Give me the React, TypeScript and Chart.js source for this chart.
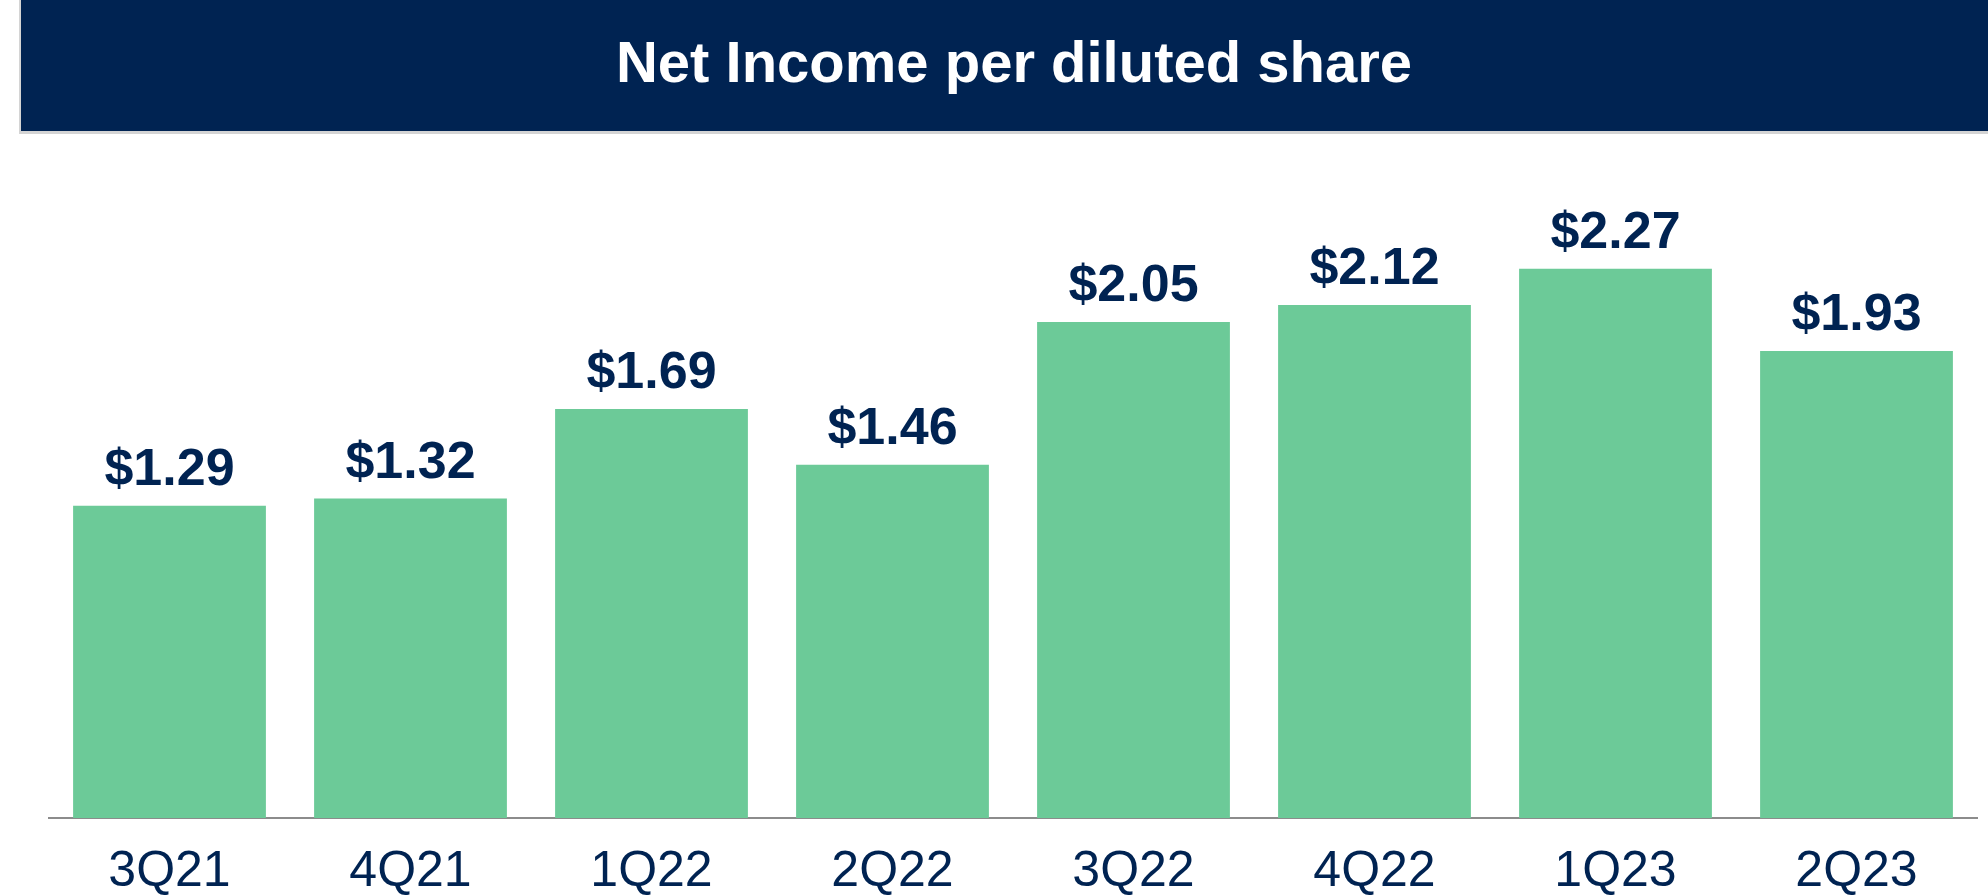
import React, { useEffect, useRef } from "react";
import { Chart, registerables } from "chart.js";

Chart.register(...registerables);

const categories = ["3Q21", "4Q21", "1Q22", "2Q22", "3Q22", "4Q22", "1Q23", "2Q23"];
const epsValues = [1.29, 1.32, 1.69, 1.46, 2.05, 2.12, 2.27, 1.93];
const valueLabels = ["$1.29", "$1.32", "$1.69", "$1.46", "$2.05", "$2.12", "$2.27", "$1.93"];
const chartTitle = "Net Income per diluted share";

const NAVY = "#002352";
const GREEN = "#6CCA98";
const FONT = "'Liberation Sans', Arial, sans-serif";

const titleBarPlugin = {
  id: "titleBar",
  beforeDraw(chart: any) {
    const ctx = chart.ctx;
    ctx.save();
    ctx.fillStyle = "#d4d4d4";
    ctx.fillRect(19, 0, chart.width - 19, 134);
    ctx.fillStyle = NAVY;
    ctx.fillRect(21, 0, chart.width - 21, 131);
    ctx.fillStyle = "#ffffff";
    ctx.font = `bold 58px ${FONT}`;
    ctx.textAlign = "center";
    ctx.textBaseline = "alphabetic";
    ctx.fillText(chartTitle, 1014, 82);
    ctx.restore();
  },
};

const valueLabelPlugin = {
  id: "valueLabels",
  afterDatasetsDraw(chart: any) {
    const ctx = chart.ctx;
    const meta = chart.getDatasetMeta(0);
    ctx.save();
    ctx.fillStyle = NAVY;
    ctx.font = `bold 52px ${FONT}`;
    ctx.textAlign = "center";
    ctx.textBaseline = "alphabetic";
    meta.data.forEach((bar: any, i: number) => {
      ctx.fillText(valueLabels[i], bar.x, bar.y - 21);
    });
    ctx.restore();
  },
};

export default function App() {
  const canvasRef = useRef<HTMLCanvasElement>(null);

  useEffect(() => {
    document.body.style.margin = "0";
    const chart = new Chart(canvasRef.current!, {
      type: "bar",
      data: {
        labels: categories,
        datasets: [
          {
            data: epsValues,
            backgroundColor: GREEN,
            borderWidth: 0,
            categoryPercentage: 1,
            barPercentage: 0.8,
          },
        ],
      },
      options: {
        animation: false,
        responsive: false,
        maintainAspectRatio: false,
        layout: { padding: { left: 49, right: 11, top: 213, bottom: 0 } },
        plugins: {
          legend: { display: false },
          title: { display: false },
          tooltip: { enabled: false },
        },
        scales: {
          x: {
            grid: { display: false, drawTicks: false },
            border: { display: true, color: "#8c8c8c", width: 2 },
            ticks: {
              color: NAVY,
              font: { family: FONT, size: 50 },
              padding: 24,
              maxRotation: 0,
              autoSkip: false,
            },
            afterFit(scale: any) {
              scale.height = 78;
            },
          },
          y: {
            display: false,
            min: 0,
            max: 2.5,
          },
        },
      },
      plugins: [titleBarPlugin, valueLabelPlugin],
    });
    return () => chart.destroy();
  }, []);

  return (
    <div style={{ position: "absolute", left: 0, top: 0, width: 1988, height: 896 }}>
      <canvas ref={canvasRef} width={1988} height={896} style={{ display: "block" }} />
    </div>
  );
}
